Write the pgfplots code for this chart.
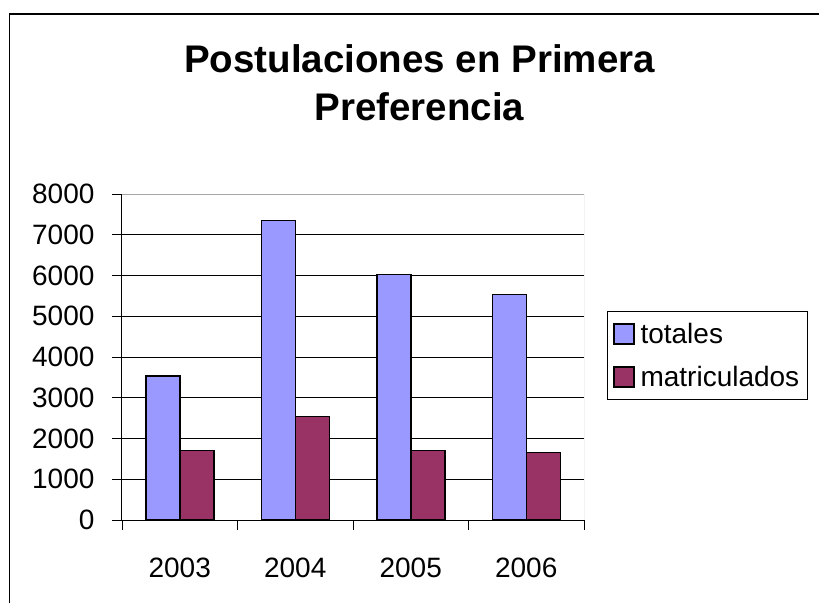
\documentclass[border=0pt]{standalone}
\usepackage{fontspec}
\setmainfont{Liberation Sans}
\usepackage{pgfplots}
\pgfplotsset{compat=1.18}
\definecolor{totcol}{HTML}{9999FF}
\definecolor{matcol}{HTML}{993366}

\begin{document}
\begin{tikzpicture}
\useasboundingbox (0,0) rectangle (819pt,603pt);
\fill[white] (0,0) rectangle (819pt,603pt);
% outer chart frame (right and bottom edges fall outside the picture)
\draw[line width=1.2pt] (9.5pt,0pt) -- (9.5pt,589pt) -- (819pt,589pt);
\begin{axis}[
  at={(122pt,83pt)}, anchor=south west,
  scale only axis, width=462pt, height=326pt,
  ybar=0pt, bar width=34pt,
  xmin=-0.5, xmax=3.5, ymin=0, ymax=8000,
  xtick={-0.5,0.5,1.5,2.5,3.5},
  xticklabels={2003,2004,2005,2006},
  x tick label as interval,
  ytick={0,1000,...,8000},
  axis x line*=bottom, axis y line*=left,
  axis line style={line width=1pt, black, -},
  tick align=outside, major tick length=10pt,
  tick style={black, line width=0.8pt},
  ymajorgrids, grid style={black, line width=0.7pt},
  font=\fontsize{28}{33}\selectfont,
  /pgf/number format/assume math mode=true,
  /pgf/number format/1000 sep={},
  yticklabel style={xshift=-14pt},
  xticklabel style={yshift=-24pt},
  every axis plot/.append style={draw=black, line width=1.5pt},
  title={Postulaciones en Primera\\Preferencia},
  title style={at={(0.644,1.442)}, anchor=north, inner sep=0pt, align=center,
    font=\bfseries\fontsize{38.5}{48}\selectfont},
  legend style={at={(1.049,0.642)}, anchor=north west, draw=black, line width=0.8pt,
    font=\fontsize{28}{33}\selectfont, inner xsep=6pt, inner ysep=10pt,
    row sep=17pt, column sep=4pt, cells={anchor=west}},
  legend image code/.code={\draw[#1, draw=black, line width=1.5pt] (0pt,-10pt) rectangle (20pt,10pt);},
]
\addplot[fill=totcol] coordinates {(0,3530) (1,7350) (2,6020) (3,5530)};
\addlegendentry{totales}
\addplot[fill=matcol] coordinates {(0,1700) (1,2540) (2,1700) (3,1655)};
\addlegendentry{matriculados}
\draw[gray!70, line width=1pt] (rel axis cs:0,1) -- (rel axis cs:1,1) -- (rel axis cs:1,0);
\end{axis}
\end{tikzpicture}
\end{document}
